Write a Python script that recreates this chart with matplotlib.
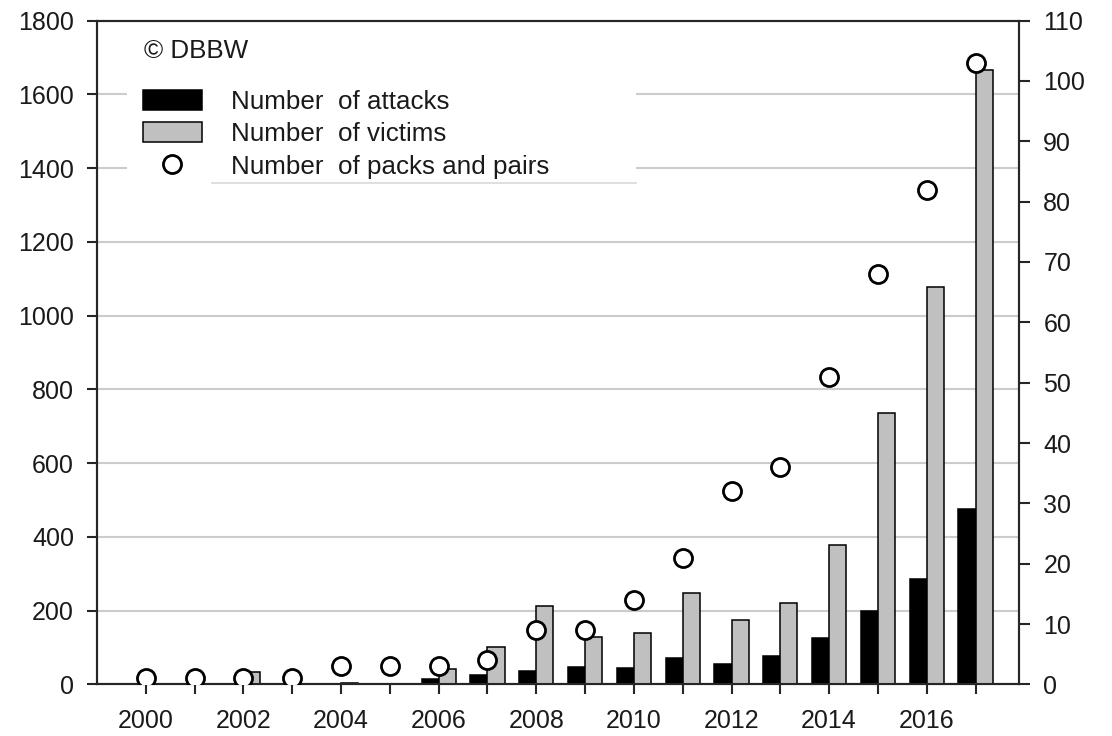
import matplotlib
matplotlib.use("Agg")
import matplotlib.pyplot as plt
from matplotlib.patches import Patch
from matplotlib.lines import Line2D
import numpy as np

plt.rcParams['font.family'] = ['Liberation Sans', 'DejaVu Sans']

years = [2000, 2001, 2002, 2003, 2004, 2005, 2006, 2007, 2008,
         2009, 2010, 2011, 2012, 2013, 2014, 2015, 2016, 2017]
attacks = [0, 0, 0, 0, 0, 0, 14, 26, 37, 47, 44, 71, 56, 77, 126, 199, 285, 475]
victims = [0, 0, 33, 0, 3, 0, 41, 101, 213, 129, 139, 249, 175, 220, 378, 736, 1077, 1666]
packs_pairs = [1, 1, 1, 1, 3, 3, 3, 4, 9, 9, 14, 21, 32, 36, 51, 68, 82, 103]

left_ticks = list(range(0, 1801, 200))
right_ticks = list(range(0, 111, 10))
year_ticks = list(range(2000, 2017, 2))

label_attacks = "Number  of attacks"
label_victims = "Number  of victims"
label_packs = "Number  of packs and pairs"
credit = "\u00a9 DBBW"

FS = 18
FS_LEG = 18.7
TXT = "#1a1a1a"
AXC = "#262626"

fig = plt.figure(figsize=(11.12, 7.36), dpi=100)
ax = fig.add_axes([0.0872, 0.0700, 0.9168 - 0.0872, 0.9721 - 0.0700])

x = np.array(years, dtype=float)
w = 0.35
ax.bar(x - w / 2, attacks, width=w, color="black", edgecolor="black",
       linewidth=1.1, zorder=3)
ax.bar(x + w / 2, victims, width=w, color="#c0c0c0", edgecolor="black",
       linewidth=1.1, zorder=3)

ax.set_xlim(1999.0, 2017.9)
ax.set_ylim(0, 1800)
ax.set_yticks(left_ticks)
ax.set_xticks(years)
ax.set_xticklabels([str(y) if y in year_ticks else "" for y in years])
ax.yaxis.grid(True, color="#cccccc", linewidth=1.5, zorder=0)
ax.set_axisbelow(True)

for s in ax.spines.values():
    s.set_linewidth(1.5)
    s.set_color(AXC)

ax.tick_params(axis="both", direction="out", length=7.2, width=1.5,
               color=AXC, labelsize=FS, labelcolor=TXT)
ax.tick_params(axis="x", pad=10.8)
ax.tick_params(axis="y", pad=9.4)

ax2 = ax.twinx()
ax2.set_ylim(0, 110)
ax2.set_yticks(right_ticks)
ax2.plot(x, packs_pairs, linestyle="none", marker="o", markersize=13,
         markerfacecolor="white", markeredgecolor="black",
         markeredgewidth=2.0, zorder=5)
for s in ax2.spines.values():
    s.set_linewidth(1.5)
    s.set_color(AXC)
ax2.tick_params(axis="y", direction="out", length=7.6, width=1.5,
                color=AXC, labelsize=FS, labelcolor=TXT, pad=9.6)

handles = [
    Patch(facecolor="black", edgecolor="black", linewidth=1.1, label=label_attacks),
    Patch(facecolor="#c0c0c0", edgecolor="black", linewidth=1.1, label=label_victims),
    Line2D([], [], linestyle="none", marker="o", markersize=13,
           markerfacecolor="white", markeredgecolor="black",
           markeredgewidth=2.0, label=label_packs),
]
leg_top = 0.9187
leg = ax2.legend(handles=handles, loc="upper left", mode="expand",
                 bbox_to_anchor=(0.0325, leg_top - 0.2, 0.5518, 0.2),
                 borderaxespad=0, fontsize=FS_LEG, frameon=True,
                 fancybox=False, facecolor="white", edgecolor="none",
                 framealpha=1.0, handlelength=2.29, handleheight=0.8,
                 handletextpad=1.13, labelspacing=0.32, borderpad=0.6)
for t in leg.get_texts():
    t.set_color(TXT)

# thin rule under the legend entries
ax2.plot([0.1247, 0.5843], [0.7553, 0.7553], transform=ax2.transAxes,
         color="#d9d9d9", linewidth=1.2, zorder=7, clip_on=False)

ax2.text(0.0509, 0.9545, credit, transform=ax2.transAxes, fontsize=FS_LEG,
         color=TXT, ha="left", va="center", zorder=6)

fig.savefig("out.png", dpi=100)
